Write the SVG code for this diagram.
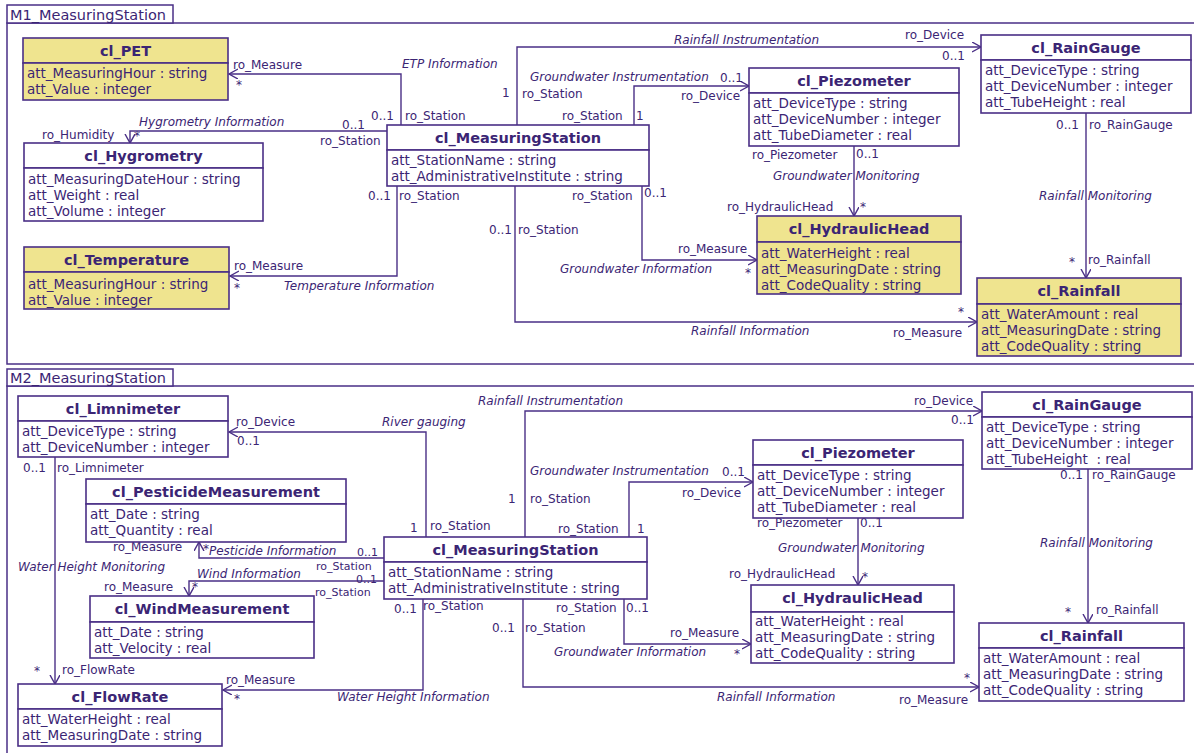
<svg xmlns="http://www.w3.org/2000/svg" width="1194" height="753" viewBox="0 0 1194 753">
<style>
.bg{fill:#ffffff}
.frame{fill:none;stroke:#4a2f86;stroke-width:1.5}
.tab{fill:#ffffff;stroke:#4a2f86;stroke-width:1.5}
.box{fill:#ffffff;stroke:#4a2f86;stroke-width:1.6}
.yel{fill:#efe48f}
.ft{font-family:"DejaVu Sans",Verdana,sans-serif;font-size:14.5px;fill:#3b2574}
.t{font-family:"DejaVu Sans",Verdana,sans-serif;font-size:14.5px;font-weight:bold;fill:#3b2574;text-anchor:middle}
.a{font-family:"DejaVu Sans",Verdana,sans-serif;font-size:13.5px;fill:#3b2574}
.l{font-family:"DejaVu Sans",Verdana,sans-serif;font-size:12px;fill:#3b2574}
.s{font-family:"DejaVu Sans",Verdana,sans-serif;font-size:11px;fill:#3b2574}
.i{font-family:"DejaVu Sans",Verdana,sans-serif;font-size:12px;font-style:italic;fill:#3b2574}
.c{fill:none;stroke:#4a2f86;stroke-width:1.4;marker-end:url(#arr)}
</style>
<defs>
<marker id="arr" markerUnits="userSpaceOnUse" markerWidth="12" markerHeight="12" refX="9" refY="5" orient="auto">
<path d="M0,0 L9,5 L0,10" fill="none" stroke="#4a2f86" stroke-width="1.4"/>
</marker>
</defs>
<rect class="bg" x="0" y="0" width="1194" height="753"/>

<g id="frame_M1">
<rect class="frame" x="7" y="23" width="1200" height="341"/>
<rect class="tab" x="7" y="5" width="166" height="18"/>
<text class="ft" x="10" y="20">M1_MeasuringStation</text>
</g>
<g id="frame_M2">
<rect class="frame" x="7" y="386" width="1200" height="400"/>
<rect class="tab" x="7" y="369" width="166" height="17"/>
<text class="ft" x="10" y="383">M2_MeasuringStation</text>
</g>

<g id="connectors">
<path class="c" d="M401,125 V74 H229"/>
<path class="c" d="M387,131 H130 V143"/>
<path class="c" d="M397,186 V276 H230"/>
<path class="c" d="M517,125 V47 H981"/>
<path class="c" d="M634,125 V86 H749"/>
<path class="c" d="M642,186 V260 H757"/>
<path class="c" d="M515,186 V322 H977"/>
<path class="c" d="M854,146 V216"/>
<path class="c" d="M1086,113 V278"/>

<path class="c" d="M426,537 V432 H229"/>
<path class="c" d="M384,558 H199 V542"/>
<path class="c" d="M384,581 H189 V596"/>
<path class="c" d="M423,599 V690 H223"/>
<path class="c" d="M525,537 V411 H982"/>
<path class="c" d="M629,537 V482 H753"/>
<path class="c" d="M624,599 V644 H751"/>
<path class="c" d="M523,599 V687 H979"/>
<path class="c" d="M858,518 V585"/>
<path class="c" d="M1088,469 V623"/>
<path class="c" d="M55,457 V684"/>

<g id="labels_M1">
<text class="l" x="233" y="69">ro_Measure</text>
<text class="l" x="236" y="89">*</text>
<text class="i" x="402" y="68">ETP Information</text>
<text class="l" x="371" y="120">0..1</text>
<text class="l" x="405" y="120">ro_Station</text>
<text class="i" x="139" y="126">Hygrometry Information</text>
<text class="l" x="42" y="139">ro_Humidity</text>
<text class="l" x="134" y="140">*</text>
<text class="l" x="342" y="129">0..1</text>
<text class="l" x="320" y="145">ro_Station</text>
<text class="l" x="234" y="270">ro_Measure</text>
<text class="l" x="234" y="292">*</text>
<text class="i" x="284" y="290">Temperature Information</text>
<text class="l" x="368" y="200">0..1</text>
<text class="l" x="399" y="200">ro_Station</text>
<text class="i" x="674" y="44">Rainfall Instrumentation</text>
<text class="l" x="502" y="97">1</text>
<text class="l" x="522" y="98">ro_Station</text>
<text class="l" x="905" y="39">ro_Device</text>
<text class="l" x="942" y="60">0..1</text>
<text class="i" x="530" y="81">Groundwater Instrumentation</text>
<text class="l" x="720" y="82">0..1</text>
<text class="l" x="681" y="100">ro_Device</text>
<text class="l" x="562" y="120">ro_Station</text>
<text class="l" x="636" y="120">1</text>
<text class="l" x="572" y="200">ro_Station</text>
<text class="l" x="644" y="197">0..1</text>
<text class="l" x="678" y="253">ro_Measure</text>
<text class="l" x="745" y="277">*</text>
<text class="i" x="560" y="273">Groundwater Information</text>
<text class="l" x="489" y="234">0..1</text>
<text class="l" x="518" y="234">ro_Station</text>
<text class="i" x="691" y="335">Rainfall Information</text>
<text class="l" x="958" y="316">*</text>
<text class="l" x="893" y="337">ro_Measure</text>
<text class="l" x="752" y="159">ro_Piezometer</text>
<text class="l" x="856" y="158">0..1</text>
<text class="i" x="773" y="180">Groundwater Monitoring</text>
<text class="l" x="727" y="211">ro_HydraulicHead</text>
<text class="l" x="860" y="211">*</text>
<text class="l" x="1056" y="129">0..1</text>
<text class="l" x="1089" y="129">ro_RainGauge</text>
<text class="i" x="1039" y="200">Rainfall Monitoring</text>
<text class="l" x="1069" y="266">*</text>
<text class="l" x="1088" y="264">ro_Rainfall</text>
</g>

<g id="labels_M2">
<text class="l" x="236" y="426">ro_Device</text>
<text class="l" x="237" y="445">0..1</text>
<text class="i" x="382" y="426">River gauging</text>
<text class="l" x="410" y="532">1</text>
<text class="l" x="430" y="530">ro_Station</text>
<text class="l" x="23" y="472">0..1</text>
<text class="l" x="57" y="472">ro_Limnimeter</text>
<text class="i" x="18" y="571">Water Height Monitoring</text>
<text class="l" x="34" y="675">*</text>
<text class="l" x="62" y="674">ro_FlowRate</text>
<text class="l" x="113" y="551">ro_Measure</text>
<text class="l" x="203" y="553">*</text>
<text class="i" x="209" y="555">Pesticide Information</text>
<text class="s" x="357" y="556">0..1</text>
<text class="s" x="316" y="569.5">ro_Station</text>
<text class="l" x="104" y="591">ro_Measure</text>
<text class="l" x="192" y="591">*</text>
<text class="i" x="197" y="578">Wind Information</text>
<text class="s" x="356" y="582.5">0..1</text>
<text class="s" x="315" y="595.5">ro_Station</text>
<text class="l" x="226" y="684">ro_Measure</text>
<text class="l" x="234" y="703">*</text>
<text class="i" x="337" y="701">Water Height Information</text>
<text class="l" x="394" y="613">0..1</text>
<text class="l" x="423" y="610">ro_Station</text>
<text class="i" x="478" y="405">Rainfall Instrumentation</text>
<text class="l" x="508" y="503">1</text>
<text class="l" x="530" y="503">ro_Station</text>
<text class="l" x="914" y="405">ro_Device</text>
<text class="l" x="951" y="424">0..1</text>
<text class="i" x="530" y="475">Groundwater Instrumentation</text>
<text class="l" x="722" y="476">0..1</text>
<text class="l" x="682" y="497">ro_Device</text>
<text class="l" x="558" y="533">ro_Station</text>
<text class="l" x="637" y="533">1</text>
<text class="l" x="757" y="527">ro_Piezometer</text>
<text class="l" x="860" y="527">0..1</text>
<text class="i" x="778" y="552">Groundwater Monitoring</text>
<text class="l" x="729" y="578">ro_HydraulicHead</text>
<text class="l" x="862" y="581">*</text>
<text class="l" x="556" y="612">ro_Station</text>
<text class="l" x="626" y="612">0..1</text>
<text class="l" x="670" y="637">ro_Measure</text>
<text class="l" x="734" y="658">*</text>
<text class="i" x="554" y="656">Groundwater Information</text>
<text class="l" x="492" y="632">0..1</text>
<text class="l" x="525" y="632">ro_Station</text>
<text class="i" x="717" y="701">Rainfall Information</text>
<text class="l" x="964" y="682">*</text>
<text class="l" x="899" y="704">ro_Measure</text>
<text class="l" x="1060" y="479">0..1</text>
<text class="l" x="1092" y="479">ro_RainGauge</text>
<text class="i" x="1040" y="547">Rainfall Monitoring</text>
<text class="l" x="1065" y="616">*</text>
<text class="l" x="1096" y="614">ro_Rainfall</text>
</g>
</g>

<g id="m1_cl_PET">
<rect class="box yel" x="23" y="38" width="205" height="25"/>
<rect class="box yel" x="23" y="63" width="205" height="37"/>
<text class="t" x="125.5" y="56">cl_PET</text>
<text class="a" x="27" y="78">att_MeasuringHour : string</text>
<text class="a" x="27" y="94">att_Value : integer</text>
</g>
<g id="m1_cl_Hygrometry">
<rect class="box" x="24" y="143" width="239" height="25"/>
<rect class="box" x="24" y="168" width="239" height="53"/>
<text class="t" x="143.5" y="161">cl_Hygrometry</text>
<text class="a" x="28" y="184">att_MeasuringDateHour : string</text>
<text class="a" x="28" y="200">att_Weight : real</text>
<text class="a" x="28" y="216">att_Volume : integer</text>
</g>
<g id="m1_cl_Temperature">
<rect class="box yel" x="24" y="247" width="205" height="25"/>
<rect class="box yel" x="24" y="272" width="205" height="37"/>
<text class="t" x="126.5" y="265">cl_Temperature</text>
<text class="a" x="28" y="289">att_MeasuringHour : string</text>
<text class="a" x="28" y="305">att_Value : integer</text>
</g>
<g id="m1_cl_MeasuringStation">
<rect class="box" x="387" y="125" width="262" height="25"/>
<rect class="box" x="387" y="150" width="262" height="36"/>
<text class="t" x="518" y="143">cl_MeasuringStation</text>
<text class="a" x="391" y="165">att_StationName : string</text>
<text class="a" x="391" y="181">att_AdministrativeInstitute : string</text>
</g>
<g id="m1_cl_Piezometer">
<rect class="box" x="749" y="68" width="210" height="25"/>
<rect class="box" x="749" y="93" width="210" height="53"/>
<text class="t" x="854" y="86">cl_Piezometer</text>
<text class="a" x="753" y="108">att_DeviceType : string</text>
<text class="a" x="753" y="124">att_DeviceNumber : integer</text>
<text class="a" x="753" y="140">att_TubeDiameter : real</text>
</g>
<g id="m1_cl_RainGauge">
<rect class="box" x="981" y="35" width="210" height="25"/>
<rect class="box" x="981" y="60" width="210" height="53"/>
<text class="t" x="1086" y="53">cl_RainGauge</text>
<text class="a" x="985" y="75">att_DeviceType : string</text>
<text class="a" x="985" y="91">att_DeviceNumber : integer</text>
<text class="a" x="985" y="107">att_TubeHeight : real</text>
</g>
<g id="m1_cl_HydraulicHead">
<rect class="box yel" x="757" y="216" width="204" height="26"/>
<rect class="box yel" x="757" y="242" width="204" height="52"/>
<text class="t" x="859" y="234">cl_HydraulicHead</text>
<text class="a" x="761" y="258">att_WaterHeight : real</text>
<text class="a" x="761" y="274">att_MeasuringDate : string</text>
<text class="a" x="761" y="290">att_CodeQuality : string</text>
</g>
<g id="m1_cl_Rainfall">
<rect class="box yel" x="977" y="278" width="204" height="26"/>
<rect class="box yel" x="977" y="304" width="204" height="52"/>
<text class="t" x="1079" y="296">cl_Rainfall</text>
<text class="a" x="981" y="319">att_WaterAmount : real</text>
<text class="a" x="981" y="335">att_MeasuringDate : string</text>
<text class="a" x="981" y="351">att_CodeQuality : string</text>
</g>

<g id="m2_cl_Limnimeter">
<rect class="box" x="18" y="396" width="210" height="25"/>
<rect class="box" x="18" y="421" width="210" height="36"/>
<text class="t" x="123" y="414">cl_Limnimeter</text>
<text class="a" x="22" y="436">att_DeviceType : string</text>
<text class="a" x="22" y="452">att_DeviceNumber : integer</text>
</g>
<g id="m2_cl_PesticideMeasurement">
<rect class="box" x="86" y="479" width="260" height="25"/>
<rect class="box" x="86" y="504" width="260" height="38"/>
<text class="t" x="216" y="497">cl_PesticideMeasurement</text>
<text class="a" x="90" y="519">att_Date : string</text>
<text class="a" x="90" y="535">att_Quantity : real</text>
</g>
<g id="m2_cl_WindMeasurement">
<rect class="box" x="90" y="596" width="224" height="26"/>
<rect class="box" x="90" y="622" width="224" height="36"/>
<text class="t" x="202" y="614">cl_WindMeasurement</text>
<text class="a" x="94" y="637">att_Date : string</text>
<text class="a" x="94" y="653">att_Velocity : real</text>
</g>
<g id="m2_cl_FlowRate">
<rect class="box" x="18" y="684" width="204" height="25"/>
<rect class="box" x="18" y="709" width="204" height="37"/>
<text class="t" x="120" y="702">cl_FlowRate</text>
<text class="a" x="22" y="724">att_WaterHeight : real</text>
<text class="a" x="22" y="740">att_MeasuringDate : string</text>
</g>
<g id="m2_cl_MeasuringStation">
<rect class="box" x="384" y="537" width="263" height="25"/>
<rect class="box" x="384" y="562" width="263" height="37"/>
<text class="t" x="515.5" y="555">cl_MeasuringStation</text>
<text class="a" x="388" y="577">att_StationName : string</text>
<text class="a" x="388" y="593">att_AdministrativeInstitute : string</text>
</g>
<g id="m2_cl_Piezometer">
<rect class="box" x="753" y="440" width="210" height="25"/>
<rect class="box" x="753" y="465" width="210" height="53"/>
<text class="t" x="858" y="458">cl_Piezometer</text>
<text class="a" x="757" y="480">att_DeviceType : string</text>
<text class="a" x="757" y="496">att_DeviceNumber : integer</text>
<text class="a" x="757" y="512">att_TubeDiameter : real</text>
</g>
<g id="m2_cl_RainGauge">
<rect class="box" x="982" y="392" width="210" height="25"/>
<rect class="box" x="982" y="417" width="210" height="52"/>
<text class="t" x="1087" y="410">cl_RainGauge</text>
<text class="a" x="986" y="432">att_DeviceType : string</text>
<text class="a" x="986" y="448">att_DeviceNumber : integer</text>
<text class="a" x="986" y="464" xml:space="preserve">att_TubeHeight  : real</text>
</g>
<g id="m2_cl_HydraulicHead">
<rect class="box" x="751" y="585" width="203" height="27"/>
<rect class="box" x="751" y="612" width="203" height="51"/>
<text class="t" x="852.5" y="603">cl_HydraulicHead</text>
<text class="a" x="755" y="626">att_WaterHeight : real</text>
<text class="a" x="755" y="642">att_MeasuringDate : string</text>
<text class="a" x="755" y="658">att_CodeQuality : string</text>
</g>
<g id="m2_cl_Rainfall">
<rect class="box" x="979" y="623" width="205" height="25"/>
<rect class="box" x="979" y="648" width="205" height="53"/>
<text class="t" x="1081.5" y="641">cl_Rainfall</text>
<text class="a" x="983" y="663">att_WaterAmount : real</text>
<text class="a" x="983" y="679">att_MeasuringDate : string</text>
<text class="a" x="983" y="695">att_CodeQuality : string</text>
</g>
</svg>
